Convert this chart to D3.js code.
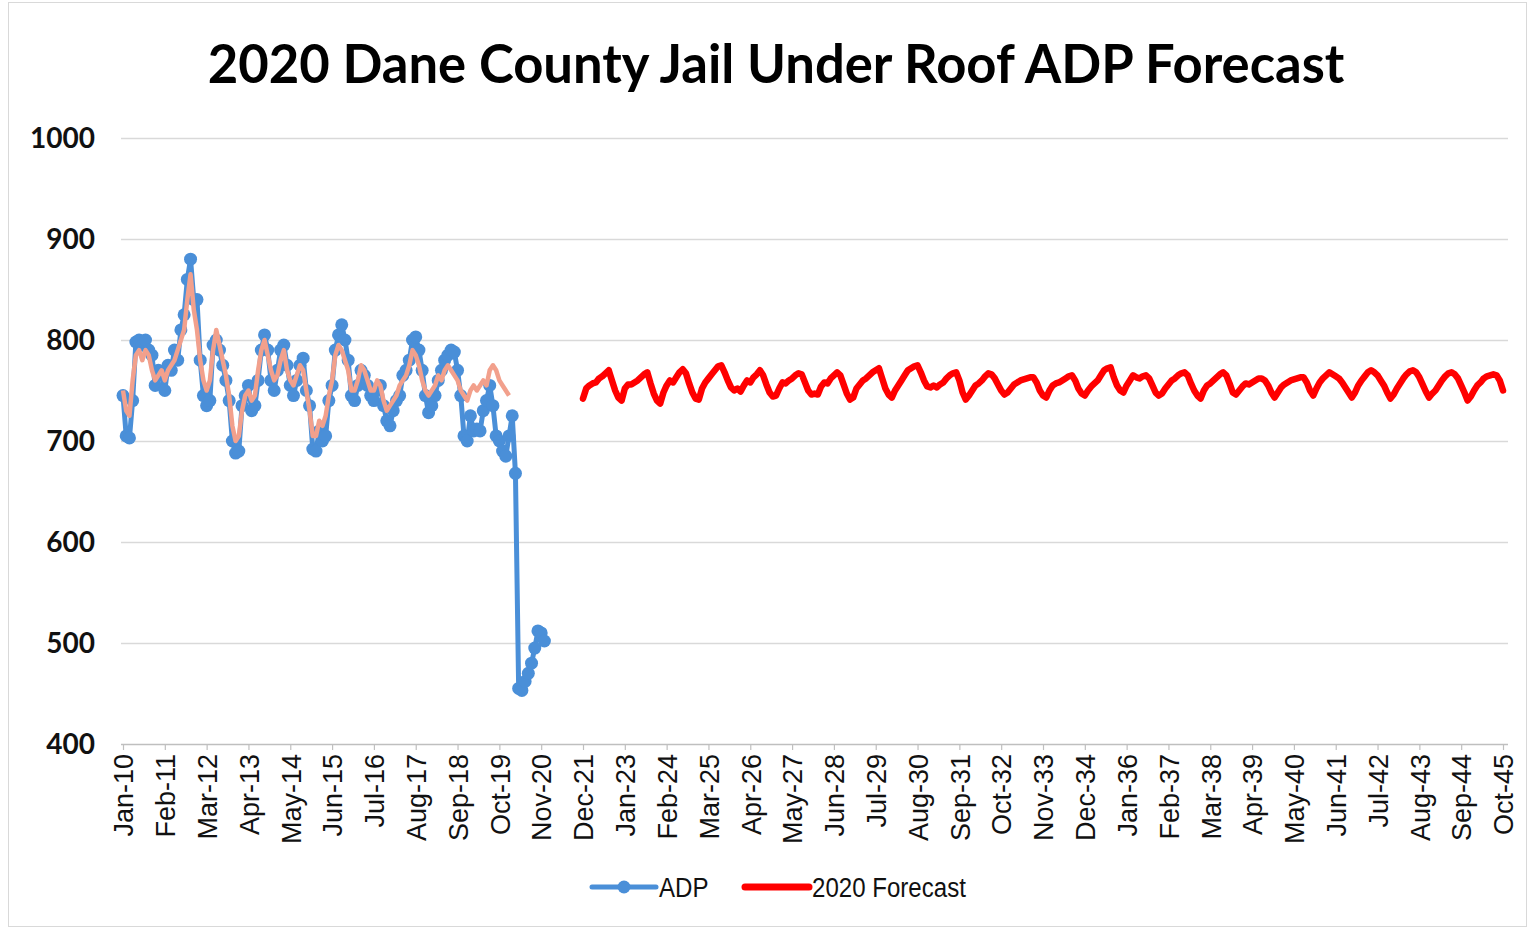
<!DOCTYPE html>
<html><head><meta charset="utf-8">
<script src="https://cdn.jsdelivr.net/npm/d3@7"></script>
<style>html,body{margin:0;padding:0;background:#fff;}</style>
</head><body>
<svg id="chart" width="1529" height="930"></svg>
<script>
// ---- data ----
const chartTitle = "2020 Dane County Jail Under Roof ADP Forecast";
const xTickLabels = ["Jan-10","Feb-11","Mar-12","Apr-13","May-14","Jun-15","Jul-16","Aug-17","Sep-18","Oct-19","Nov-20","Dec-21","Jan-23","Feb-24","Mar-25","Apr-26","May-27","Jun-28","Jul-29","Aug-30","Sep-31","Oct-32","Nov-33","Dec-34","Jan-36","Feb-37","Mar-38","Apr-39","May-40","Jun-41","Jul-42","Aug-43","Sep-44","Oct-45"];
const monthsPerTick = 13;
const totalMonths = 429; // Jan-10 .. Oct-45
const yTicks = [400,500,600,700,800,900,1000];

// ADP, monthly from Jan-10
const adpStart = 0;
const adpValues = [
 745,705,703,740,798,800,795,800,790,785,755,770,
 765,750,775,770,790,780,810,825,860,880,840,840,
 780,745,735,740,795,800,790,775,760,740,700,688,
 690,735,745,755,730,735,760,790,805,790,760,750,
 770,790,795,775,755,745,760,775,782,750,735,692,
 690,710,700,705,740,755,790,805,815,800,780,745,
 740,755,770,765,755,745,740,750,755,735,720,715,
 730,740,745,765,770,780,800,803,790,770,745,728,
 735,745,760,770,780,785,790,788,770,745,705,700,
 725,710,712,710,730,740,755,735,705,700,690,685,
 705,725,668,455,453,462,470,480,495,512,510,502
];

// fitted (salmon) line, monthly from Jan-10
const fitStart = 0;
const fitValues = [
 750,730,725,760,785,790,780,790,785,770,760,765,
 770,760,770,775,780,790,800,810,840,865,830,810,
 780,760,750,760,790,810,795,780,765,745,715,700,
 705,730,745,750,740,745,770,790,800,785,770,760,
 765,780,790,770,760,755,765,775,770,750,730,705,
 705,720,715,725,745,760,785,795,790,780,770,750,
 750,760,775,770,760,750,750,760,755,740,730,735,
 740,745,755,760,765,775,790,785,775,760,750,745,
 750,755,765,760,770,775,770,765,760,750,745,740,
 750,755,750,755,760,755,770,775,770,760,755,750,
 745
];

// 2020 Forecast, monthly from Dec-21
const fcStart = 143;
const forecastValues = [
 742,
 752,755,757,758,762,764,767,770,760,750,743,740,
 752,756,756,758,760,763,766,768,757,747,740,737,
 748,755,760,758,763,768,771,767,757,748,742,741,
 752,758,762,766,770,774,775,768,760,753,750,752,
 749,755,760,758,763,766,770,765,756,748,744,745,
 752,758,757,760,762,765,767,766,758,750,746,747,
 746,754,758,757,762,765,768,765,756,747,741,743,
 752,756,760,762,765,768,770,772,762,752,746,743,
 750,755,760,765,770,772,774,775,768,760,754,753,
 755,753,756,758,762,765,767,768,760,748,741,745,
 750,755,757,760,764,767,766,762,756,750,746,748,
 752,756,758,760,761,762,763,763,758,750,745,743,
 750,755,757,758,760,762,764,765,760,752,747,745,
 750,754,757,760,765,770,772,773,763,755,750,748,
 755,760,765,763,762,764,765,762,755,748,745,747,
 752,756,760,762,765,767,768,765,757,750,745,742,
 750,755,757,760,763,766,768,765,757,748,746,750,
 754,757,756,758,760,762,762,760,755,748,743,748,
 753,756,758,760,761,762,763,763,758,750,745,752,
 758,762,765,768,766,764,762,758,753,748,743,748,
 755,760,764,768,770,768,765,760,755,748,742,746,
 752,757,762,766,769,770,768,763,756,749,743,747,
 750,755,760,764,767,768,766,762,755,748,740,744,
 750,755,758,762,764,765,766,765,760,750
];

const legendItems = [{name:"ADP", color:"#4a8fd8", marker:true},{name:"2020 Forecast", color:"#ff0000", marker:false}];

// ---- drawing ----
const svg = d3.select("#chart");
svg.append("rect").attr("x",8.5).attr("y",2.5).attr("width",1518).attr("height",924)
  .attr("fill","#fff").attr("stroke","#d9d9d9").attr("stroke-width",1);

const x = d3.scaleLinear().domain([0,totalMonths]).range([123,1503]);
const y = d3.scaleLinear().domain([400,1000]).range([744,138]);
const gridX0 = 121, gridX1 = 1508;

// gridlines
svg.append("g").selectAll("line").data(yTicks.filter(v=>v>400)).join("line")
  .attr("x1",gridX0).attr("x2",gridX1)
  .attr("y1",d=>y(d)+0.5).attr("y2",d=>y(d)+0.5)
  .attr("stroke","#d9d9d9").attr("stroke-width",1.5);

// y labels
svg.append("g").selectAll("text").data(yTicks).join("text")
  .attr("x",95).attr("y",d=>y(d)).attr("dy","0.36em")
  .attr("text-anchor","end")
  .style("font-family","Lato, 'Open Sans', sans-serif").style("font-weight","700")
  .style("font-size","28px").attr("fill","#111")
  .text(d=>d);

// x axis
const tickIdx = xTickLabels.map((l,i)=>i*monthsPerTick);
const xAxis = d3.axisBottom(x).tickValues(tickIdx).tickSize(6)
  .tickFormat((d,i)=>xTickLabels[i]);
const gx = svg.append("g").attr("transform",`translate(0,${y(400)})`).call(xAxis);
gx.select(".domain").attr("stroke","#bfbfbf").attr("stroke-width",1.5).attr("d",`M${gridX0},0.5H${gridX1}`);
gx.selectAll(".tick line").attr("stroke","#bfbfbf").attr("stroke-width",1.2);
gx.selectAll(".tick text")
  .attr("transform","rotate(-90)")
  .attr("x",-10).attr("y",0).attr("dy","0.36em")
  .attr("text-anchor","end")
  .style("font-family","'Liberation Sans', Arial, sans-serif")
  .style("font-size","27px").attr("fill","#111");

// series
const adpPts = adpValues.map((v,i)=>[adpStart+i,v]);
const fitPts = fitValues.map((v,i)=>[fitStart+i,v]);
const fcPts = forecastValues.map((v,i)=>[fcStart+i,v]);
const line = d3.line().x(d=>x(d[0])).y(d=>y(d[1]));

svg.append("path").datum(adpPts).attr("d",line).attr("fill","none")
  .attr("stroke",legendItems[0].color).attr("stroke-width",5).attr("stroke-linejoin","round");
svg.append("g").selectAll("circle").data(adpPts).join("circle")
  .attr("cx",d=>x(d[0])).attr("cy",d=>y(d[1])).attr("r",6.5).attr("fill",legendItems[0].color);
svg.append("path").datum(fitPts).attr("d",line).attr("fill","none")
  .attr("stroke","#f2a08c").attr("stroke-width",4.5).attr("stroke-linejoin","round");
svg.append("path").datum(fcPts).attr("d",line).attr("fill","none")
  .attr("stroke",legendItems[1].color).attr("stroke-width",6.5).attr("stroke-linejoin","round").attr("stroke-linecap","round");

// title
const title = svg.append("text").attr("x",776).attr("y",83).attr("text-anchor","middle")
  .style("font-family","Lato, 'Open Sans', sans-serif").style("font-weight","700")
  .style("font-size","50px").attr("fill","#000").text(chartTitle);
const tw = title.node().getComputedTextLength();
title.style("font-size",(50*1137/tw).toFixed(2)+"px");

// legend
const lg = svg.append("g");
const legX = [592, 745];
legendItems.forEach((it,i)=>{
  const gx0 = legX[i];
  lg.append("line").attr("x1",gx0).attr("x2",gx0+64).attr("y1",887).attr("y2",887)
    .attr("stroke",it.color).attr("stroke-width",it.marker?5:7).attr("stroke-linecap","round");
  if(it.marker) lg.append("circle").attr("cx",gx0+32).attr("cy",887).attr("r",6.5).attr("fill",it.color);
  lg.append("text").attr("transform",`translate(${gx0+67},887) scale(0.86,1)`).attr("dy","0.36em")
    .style("font-family","'Liberation Sans', Arial, sans-serif")
    .style("font-size","28px").attr("fill","#111").text(it.name);
});
</script>
</body></html>
